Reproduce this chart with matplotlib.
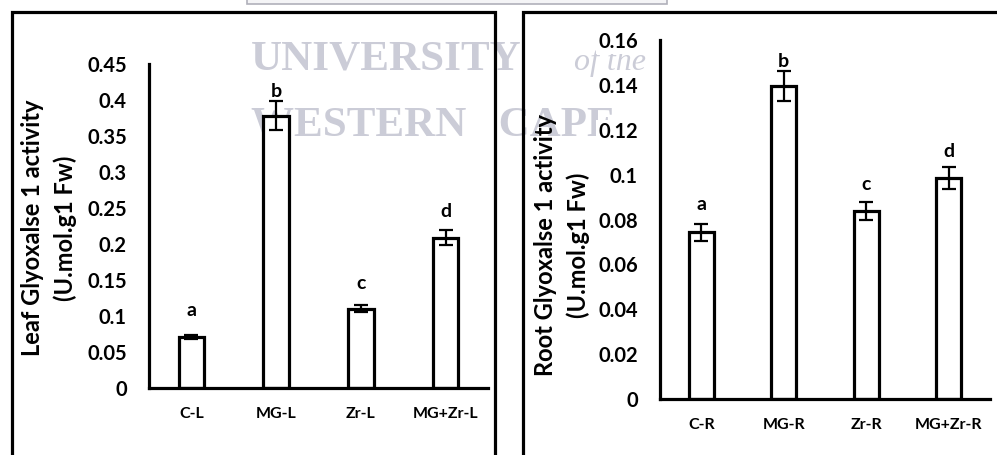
import matplotlib
matplotlib.use("Agg")
from matplotlib import pyplot as plt
from matplotlib.patches import Rectangle

plt.rcParams['font.family'] = ['Lato', 'DejaVu Sans']
plt.rcParams['font.weight'] = 'bold'

# leaf panel
leaf_cats = ["C-L", "MG-L", "Zr-L", "MG+Zr-L"]
leaf_vals = [0.071, 0.378, 0.110, 0.209]
leaf_err = [0.003, 0.020, 0.005, 0.010]
leaf_letters = ["a", "b", "c", "d"]
leaf_letter_y = [0.096, 0.400, 0.133, 0.233]
leaf_ticks = [0, 0.05, 0.1, 0.15, 0.2, 0.25, 0.3, 0.35, 0.4, 0.45]
leaf_ticklabels = ["0", "0.05", "0.1", "0.15", "0.2", "0.25", "0.3", "0.35", "0.4", "0.45"]

# root panel
root_cats = ["C-R", "MG-R", "Zr-R", "MG+Zr-R"]
root_vals = [0.0743, 0.1395, 0.0838, 0.0984]
root_err = [0.0039, 0.0069, 0.0041, 0.0048]
root_letters = ["a", "b", "c", "d"]
root_letter_y = [0.0829, 0.1466, 0.0918, 0.1065]
root_ticks = [0, 0.02, 0.04, 0.06, 0.08, 0.1, 0.12, 0.14, 0.16]
root_ticklabels = ["0", "0.02", "0.04", "0.06", "0.08", "0.1", "0.12", "0.14", "0.16"]

W, H = 997, 455
fig = plt.figure(figsize=(W / 100, H / 100), dpi=100)


def px(x0, y0, x1, y1):
    # pixel box (from top-left) -> figure fraction rect
    return [x0 / W, 1 - y1 / H, (x1 - x0) / W, (y1 - y0) / H]


# watermark behind everything
wm = "#cbccd7"
fig.text(251 / W, 1 - 70 / H, "UNIVERSITY", family="Liberation Serif", fontsize=31,
         weight="bold", color=wm, zorder=-2)
fig.text(574 / W, 1 - 70 / H, "of the", family="Liberation Serif", fontsize=23,
         style="italic", weight="normal", color=wm, zorder=-2)
fig.text(251 / W, 1 - 135 / H, "WESTERN   CAPE", family="Liberation Serif", fontsize=31,
         weight="bold", color=wm, zorder=-2)
fig.patches.append(Rectangle((247 / W, 1 - 4 / H), 420 / W, 10 / H, transform=fig.transFigure,
                             facecolor="#f4f4f6", edgecolor="#b0b0ba", lw=1.2, zorder=-1))


def panel(rect, cats, vals, err, letters, letter_y, ticks, ticklabels, top, label, label_xy, white_ticks):
    ax = fig.add_axes(rect)
    ax.patch.set_alpha(0)
    x = range(len(cats))
    ax.bar(x, vals, width=0.3, color="white", edgecolor="black", linewidth=2.3, zorder=2)
    ax.errorbar(x, vals, yerr=err, fmt="none", ecolor="black", elinewidth=1.6,
                capsize=5, capthick=1.6, zorder=3)
    for i, (t, ly) in enumerate(zip(letters, letter_y)):
        ax.text(i, ly, t, ha="center", va="bottom", fontsize=14, weight="bold", zorder=4)
    ax.set_xlim(-0.5, len(cats) - 0.5)
    ax.set_ylim(0, top)
    ax.set_xticks(list(x))
    ax.set_xticklabels(cats, fontsize=11.5, weight="bold")
    ax.set_yticks(ticks)
    ax.set_yticklabels(ticklabels, fontsize=14.5, weight="bold")
    ax.tick_params(axis="y", length=0, pad=16)
    ax.tick_params(axis="x", length=0, pad=14)
    if white_ticks:
        for t in ax.get_yticklabels():
            t.set_bbox(dict(facecolor="white", edgecolor="none", pad=1.5))
    for s in ["top", "right"]:
        ax.spines[s].set_visible(False)
    for s in ["left", "bottom"]:
        ax.spines[s].set_linewidth(2.3)
    fig.text(label_xy[0] / W, 1 - label_xy[1] / H, label, rotation=90, ha="center", va="center",
             multialignment="center", fontsize=17, weight="bold", linespacing=1.45)
    return ax


panel(px(149, 64, 488, 388), leaf_cats, leaf_vals, leaf_err, leaf_letters, leaf_letter_y,
      leaf_ticks, leaf_ticklabels, 0.45, "Leaf Glyoxalse 1 activity\n(U.mol.g1 Fw)", (49, 228), False)
panel(px(660, 40, 990, 399), root_cats, root_vals, root_err, root_letters, root_letter_y,
      root_ticks, root_ticklabels, 0.16, "Root Glyoxalse 1 activity\n(U.mol.g1 Fw)", (562, 245), True)

# panel frames
fig.patches.append(Rectangle((12 / W, -0.1), (495 - 12) / W, 1.1 - 12 / H, transform=fig.transFigure,
                             fill=False, edgecolor="black", lw=2.3, zorder=5))
fig.patches.append(Rectangle((523 / W, -0.1), 0.6, 1.1 - 12 / H, transform=fig.transFigure,
                             fill=False, edgecolor="black", lw=2.3, zorder=5))

fig.savefig("out.png", dpi=100)
